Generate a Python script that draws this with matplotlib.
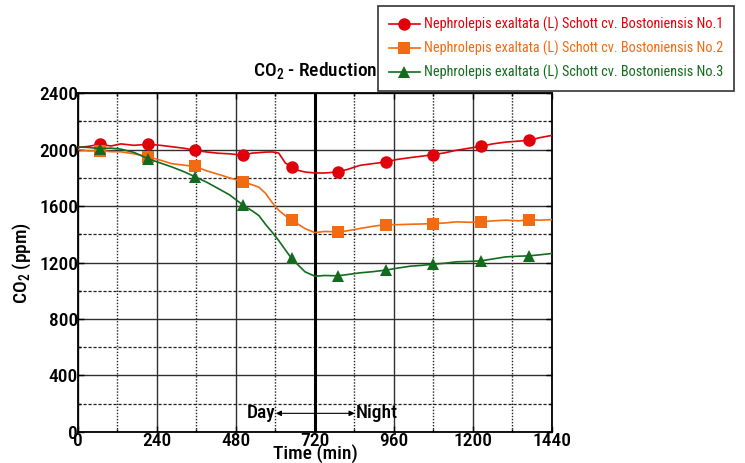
import matplotlib
matplotlib.use("Agg")
import matplotlib.pyplot as plt
from matplotlib.ticker import MultipleLocator

plt.rcParams['font.family'] = ['Roboto Condensed', 'Liberation Sans', 'DejaVu Sans']
plt.rcParams['mathtext.default'] = 'regular'

# time (min) and CO2 (ppm) readings for the three plants
times = [0, 30, 67, 100, 130, 170, 212, 250, 285, 320,
         357, 390, 426, 460, 502, 530, 550, 570, 590, 610,
         630, 649, 670, 690, 720, 750, 789, 820, 857, 895,
         935, 970, 1010, 1045, 1080, 1115, 1150, 1190, 1225, 1260,
         1300, 1340, 1370, 1405, 1440]
no1 = [2015, 2022, 2038, 2025, 2040, 2030, 2037, 2030, 2020, 2010,
       1995, 1983, 1974, 1970, 1960, 1975, 1978, 1982, 1983, 1975,
       1905, 1878, 1852, 1841, 1834, 1834, 1841, 1860, 1888, 1900,
       1912, 1930, 1943, 1953, 1964, 1977, 1995, 2010, 2023, 2040,
       2053, 2060, 2065, 2085, 2100]
no2 = [2000, 1990, 1992, 1985, 1984, 1970, 1950, 1925, 1900, 1890,
       1880, 1850, 1825, 1800, 1771, 1750, 1733, 1690, 1625, 1570,
       1532, 1504, 1470, 1440, 1412, 1420, 1417, 1425, 1441, 1456,
       1469, 1468, 1471, 1473, 1476, 1480, 1488, 1485, 1488, 1495,
       1500, 1495, 1504, 1500, 1504]
no3 = [2018, 2015, 2007, 2010, 2003, 1980, 1936, 1905, 1877, 1845,
       1806, 1770, 1724, 1680, 1606, 1565, 1532, 1470, 1415, 1355,
       1290, 1229, 1180, 1134, 1103, 1108, 1106, 1115, 1127, 1135,
       1146, 1160, 1174, 1180, 1188, 1195, 1205, 1208, 1212, 1225,
       1240, 1245, 1247, 1255, 1264]
marker_times = [67, 212, 357, 502, 649, 789, 935, 1080, 1225, 1370]

labels = ["Nephrolepis exaltata (L) Schott cv. Bostoniensis No.1",
          "Nephrolepis exaltata (L) Schott cv. Bostoniensis No.2",
          "Nephrolepis exaltata (L) Schott cv. Bostoniensis No.3"]
colors = ['#e0000b', '#f26a12', '#136b1e']
markers = ['o', 's', '^']

fig = plt.figure(figsize=(7.45, 4.63), dpi=100)
ax = fig.add_axes([0.1047, 0.067, 0.636, 0.732])

mark_idx = [times.index(t) for t in marker_times]
lines = []
for vals, c, m, lab in zip([no1, no2, no3], colors, markers, labels):
    ln, = ax.plot(times, vals, color=c, lw=1.2, marker=m, markersize=9,
                  markevery=mark_idx, markeredgewidth=0, label=lab, zorder=3)
    lines.append(ln)

ax.set_xlim(0, 1440)
ax.set_ylim(0, 2400)
ax.xaxis.set_major_locator(MultipleLocator(240))
ax.xaxis.set_minor_locator(MultipleLocator(120))
ax.yaxis.set_major_locator(MultipleLocator(400))
ax.yaxis.set_minor_locator(MultipleLocator(200))

ax.grid(which='major', axis='both', color='#303030', lw=1.0, ls='-')
ax.grid(which='minor', axis='x', color='#202020', lw=1.0, ls=(0, (1, 1.2)))
ax.grid(which='minor', axis='y', color='#202020', lw=0.9, ls=(0, (2.5, 1.5)))
ax.set_axisbelow(True)

ax.tick_params(which='both', direction='in', top=True, right=True, length=4, width=1,
               labelsize=14, pad=0)
ax.tick_params(which='minor', length=2)
for lab in ax.get_xticklabels() + ax.get_yticklabels():
    lab.set_fontweight(500)
for s in ax.spines.values():
    s.set_linewidth(1.3)

# sunset marker
ax.axvline(720, color='black', lw=2.2, zorder=2)

ax.annotate('', xy=(601, 132), xytext=(841, 132),
            arrowprops=dict(arrowstyle='<|-|>', color='black', lw=0.8,
                            mutation_scale=8, shrinkA=0, shrinkB=0))
ax.text(599, 132, 'Day', ha='right', va='center', fontsize=14, fontweight=500)
ax.text(843, 132, 'Night', ha='left', va='center', fontsize=14, fontweight=500)

ax.set_xlabel('Time (min)', fontsize=14, fontweight=500, labelpad=-4)
ax.set_ylabel('CO$_2$ (ppm)', fontsize=14, fontweight=500, labelpad=4)
ax.set_title('CO$_2$ - Reduction', fontsize=14, fontweight=500, pad=12)

leg = fig.legend(handles=lines, loc='upper left', bbox_to_anchor=(378 / 745, 1 - 6 / 463),
                 fontsize=10.3, frameon=True, fancybox=False, edgecolor='black',
                 handlelength=2.2, handletextpad=0.25, labelspacing=0.62,
                 borderpad=0.75, borderaxespad=0)
leg.get_frame().set_linewidth(1.2)
for txt, c in zip(leg.get_texts(), colors):
    txt.set_color(c)

fig.savefig('out.png', dpi=100)
